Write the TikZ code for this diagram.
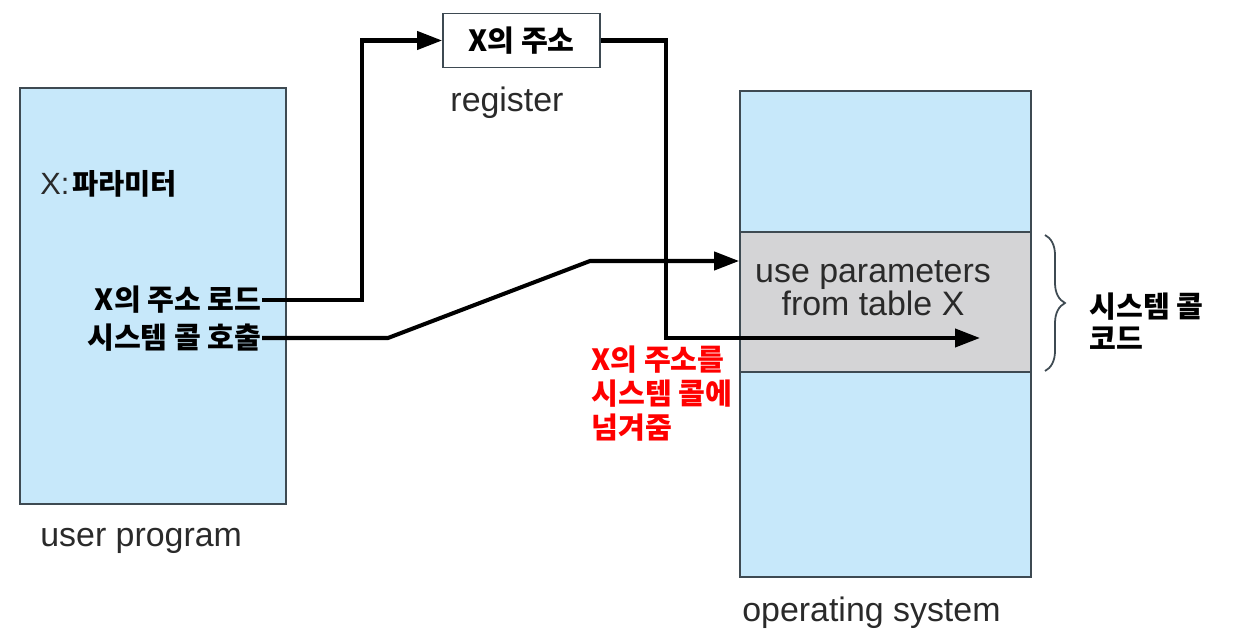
\documentclass[tikz,border=0pt]{standalone}
\usepackage{fontspec}
\setmainfont{Liberation Sans}
\newfontfamily\kr{Noto Sans CJK KR}
\usetikzlibrary{arrows.meta,decorations.pathreplacing}
\definecolor{ublue}{HTML}{C7E8FA}
\definecolor{sgray}{HTML}{D4D4D6}
\definecolor{edge}{HTML}{3E4A52}
\definecolor{txt}{HTML}{2A2A2A}
\tikzset{
  panel/.style={draw=edge, line width=1pt, fill=ublue, inner sep=0pt},
  grayband/.style={draw=edge, line width=1pt, fill=sgray, inner sep=0pt},
  regbox/.style={draw=edge, line width=1pt, fill=white, inner sep=0pt},
  entxt/.style={text=txt, inner sep=0pt, font=\fontsize{19.3}{18.7}\selectfont},
  krtxt/.style={inner sep=0pt, font=\kr\bfseries\fontsize{16.6}{19}\selectfont},
  redtxt/.style={inner sep=0pt, text=red, align=left, font=\kr\bfseries\fontsize{16.6}{19.3}\selectfont},
  flow/.style={line width=2.3pt, black},
  flowarr/.style={flow, -{Triangle[length=0.5cm,width=0.36cm]}},
}
\begin{document}
\begin{tikzpicture}[x=0.02cm,y=-0.02cm]
\useasboundingbox (0,0) rectangle (1234,641);
% user program
\node[panel, minimum width=5.32cm, minimum height=8.32cm] (user) at (153,296) {};
\node[entxt, anchor=west] (ulabel) at (40,541) {user program};
\node[inner sep=0pt, anchor=west] (param) at (40,184) {\textcolor{txt}{\fontsize{17.5}{20}\selectfont X:}\,{\kr\bfseries\fontsize{16.2}{19}\selectfont 파라미터}};
\node[krtxt, anchor=east] (load) at (262,300) {X의 주소 로드};
\node[krtxt, anchor=east] (call) at (262,338) {시스템 콜 호출};
% register
\node[regbox, minimum width=3.14cm, minimum height=1.08cm] (reg) at (521.5,40.5) {};
\node[krtxt] (regtxt) at (reg.center) {X의 주소};
\node[entxt] (rlabel) at (507,103) {register};
% operating system
\node[panel, minimum width=5.82cm, minimum height=9.72cm] (os) at (885.5,334) {};
\node[grayband, minimum width=5.82cm, minimum height=2.8cm] (code) at (885.5,302) {};
\node[entxt, align=center] (usep) at (873,288) {use parameters\\from table X};
\node[entxt, anchor=west] (oslabel) at (742,613) {operating system};
% brace and label
\coordinate (bt) at (1045,235);
\coordinate (bb) at (1045,371);
\draw[draw=edge, line width=1pt, decorate, decoration={brace, amplitude=0.4cm}] (bt) -- (bb);
\node[redtxt, text=black, anchor=west, font=\kr\bfseries\fontsize{16.6}{18.2}\selectfont] (sclabel) at (1089,321) {시스템 콜\\코드};
% red note
\node[redtxt, anchor=north west] (note) at (591,346) {X의 주소를\\시스템 콜에\\넘겨줌};
% connectors
\coordinate (c1) at (362,40.5);
\draw[flowarr] (load.east) -| (c1) -- (reg.west);
\coordinate (c2) at (666,338);
\coordinate (tip) at (980,338);
\draw[flowarr] (reg.east) -| (c2) -- (tip);
\coordinate (c3) at (388,338);
\coordinate (c4) at (590,261);
\draw[flowarr] (call.east) -- (c3) -- (c4) -- (c4 -| code.west);
\end{tikzpicture}
\end{document}
